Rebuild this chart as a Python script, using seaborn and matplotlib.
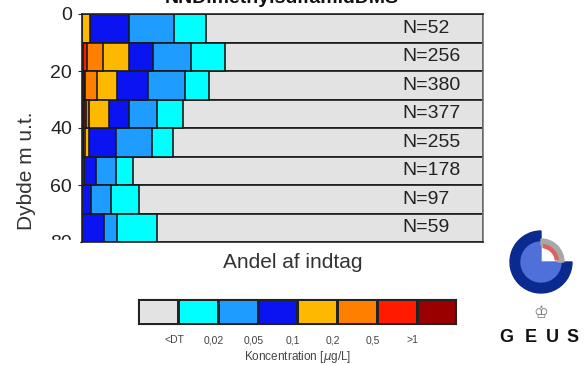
import numpy as np
import pandas as pd
import matplotlib
matplotlib.use("Agg")
import matplotlib.pyplot as plt
from matplotlib.colors import ListedColormap
from matplotlib.patches import Wedge, Rectangle
import seaborn as sns

# depth intervals (m u.t.), midpoints of 10 m bins
depth_mid = [5, 15, 25, 35, 45, 55, 65, 75]
n_counts = [52, 256, 380, 377, 255, 178, 97, 59]

# share of intakes (%) per concentration class
pct_gt1 = [0.0, 0.4, 0.5, 0.6, 0.4, 0.0, 0.0, 0.0]      # >1
pct_05_1 = [0.0, 1.0, 0.3, 0.5, 0.0, 0.0, 0.0, 0.0]     # 0,5-1
pct_02_05 = [0.0, 4.0, 2.9, 0.8, 0.3, 0.6, 0.0, 0.0]    # 0,2-0,5
pct_01_02 = [2.1, 6.5, 5.1, 5.0, 1.1, 0.0, 0.0, 0.0]    # 0,1-0,2
pct_005_01 = [9.7, 5.8, 7.8, 5.0, 6.8, 2.9, 2.2, 5.5]   # 0,05-0,1
pct_002_005 = [11.2, 9.5, 9.2, 6.8, 9.0, 5.1, 5.1, 3.2] # 0,02-0,05
pct_dt_002 = [8.0, 8.6, 5.9, 6.6, 5.1, 4.3, 7.1, 10.1]  # DT-0,02

classes = ["<DT", "DT-0,02", "0,02-0,05", "0,05-0,1", "0,1-0,2", "0,2-0,5", "0,5-1", ">1"]
class_colors = ["#e3e3e3", "#00ffff", "#1e9cff", "#0a14f0", "#fcb900", "#ff7f00", "#ff1a00", "#9a0000"]
cbar_labels = ["<DT", "0,02", "0,05", "0,1", "0,2", "0,5", ">1"]

# left-to-right order in the bars: >1 first ... <DT last
shares = [pct_gt1, pct_05_1, pct_02_05, pct_01_02, pct_005_01, pct_002_005, pct_dt_002]
cum = np.cumsum(np.array(shares), axis=0)
rows = []
names_lr = classes[::-1]  # >1 ... <DT
for i, name in enumerate(names_lr[:-1]):
    for d, v in zip(depth_mid, cum[i]):
        rows.append({"depth": d, "cum": v, "klasse": name})
for d in depth_mid:
    rows.append({"depth": d, "cum": 100.0, "klasse": "<DT"})
df = pd.DataFrame(rows)

sns.set_style("white")
plt.rcParams["font.family"] = ["Liberation Sans", "DejaVu Sans"]
plt.rcParams["mathtext.fontset"] = "dejavusans"

fig = plt.figure(figsize=(5.86, 3.65), dpi=100)
ax = fig.add_axes([81.7 / 586, 1 - 242 / 365, 401.3 / 586, 228 / 365])

pal = dict(zip(classes, class_colors))
sns.barplot(data=df, x="cum", y="depth", hue="klasse", hue_order=classes,
            palette=pal, dodge=False, orient="h", native_scale=True,
            width=1, saturation=1, edgecolor="#1a1a1a", linewidth=1.2,
            legend=False, ax=ax)

ax.set_xlim(0, 100)
ax.set_ylim(80, 0)
ax.set_xticks([])
ax.set_yticks([0, 20, 40, 60, 80])
ax.set_yticklabels(["0", "20", "40", "60", "80"], fontsize=14, color="#222222")
ax.tick_params(axis="y", length=3, width=0.8, pad=4, left=True)
ax.set_xlabel("")
ax.set_ylabel("")
for s in ax.spines.values():
    s.set_color("#222222")
    s.set_linewidth(1.2)
ax.spines["right"].set_color("#777777")

for d, n in zip(depth_mid, n_counts):
    ax.text(0.80, d, f"N={n}", transform=ax.get_yaxis_transform(),
            va="center", ha="left", fontsize=14, color="#222222")

# hide lower part of the "80" label like in the reference crop
fig.patches.append(Rectangle((0.05, 1 - 254 / 365), 0.085, 14 / 365,
                             transform=fig.transFigure, color="white", zorder=10))

fig.text(282 / 586, 1 - 3 / 365, "NNDimethylsulfamidDMS", ha="center",
         va="baseline", fontsize=14, fontweight="bold", color="#111111")
fig.text(293 / 586, 1 - 262 / 365, "Andel af indtag", ha="center", va="center",
         fontsize=15, color="#333333")
fig.text(27 / 586, 1 - 171 / 365, "Dybde m u.t.", ha="center", va="center",
         rotation=90, fontsize=15, color="#333333")

# colour key
cax = fig.add_axes([138.3 / 586, 1 - 324 / 365, 318 / 586, 24.7 / 365])
sns.heatmap(np.arange(8).reshape(1, 8), cmap=ListedColormap(class_colors),
            cbar=False, linewidths=1, linecolor="#222222",
            xticklabels=False, yticklabels=False, ax=cax)
for s in cax.spines.values():
    s.set_visible(True)
    s.set_color("#222222")
cax.set_xticks(np.arange(1, 8) - 0.1)
cax.set_xticklabels(cbar_labels, fontsize=7.5, color="#444444")
cax.tick_params(axis="x", length=0, pad=8)
cax.set_xlabel("Koncentration [$\\mu$g/L]", fontsize=8.5, color="#444444", labelpad=3)

# GEUS logo
lax = fig.add_axes([505 / 586, 1 - 298 / 365, 72 / 586, 72 / 365])
lax.set_xlim(-36, 36)
lax.set_ylim(-36, 36)
lax.set_aspect("equal")
lax.axis("off")
lax.add_patch(Wedge((0, 0), 31, 90, 360, width=11, color="#0b2a8f"))
lax.add_patch(Wedge((0, 0), 20, 90, 360, color="#4f70d8"))
lax.add_patch(Wedge((0, 0), 23, 0, 90, width=6, color="#a3aaa8"))
lax.add_patch(Wedge((0, 0), 17.5, 8, 82, width=3, color="#e06060"))

fig.text(541 / 586, 1 - 313 / 365, "\u2654", ha="center", va="center",
         fontsize=12, color="#777777", family=["DejaVu Sans"])
for letter, xp in zip("GEUS", [506, 531, 552, 573]):
    fig.text(xp / 586, 1 - 338 / 365, letter, ha="center", va="center",
             fontsize=13, fontweight="bold", color="#111111")

fig.savefig("out.png", dpi=100)
